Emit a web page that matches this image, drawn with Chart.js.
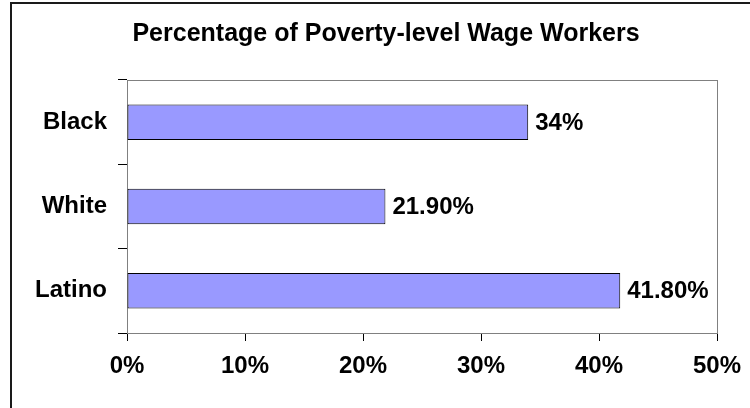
<!DOCTYPE html>
<html>
<head>
<meta charset="utf-8">
<script src="https://cdn.jsdelivr.net/npm/chart.js@4/dist/chart.umd.min.js"></script>
<style>
  html, body { margin: 0; padding: 0; background: #fff; overflow: hidden; }
  #wrap { position: relative; width: 750px; height: 408px; }
  #frame {
    position: absolute; left: 10px; top: 2px; width: 800px; height: 500px;
    border: 2px solid #1a1a1a; box-sizing: border-box; pointer-events: none;
  }
</style>
</head>
<body>
<div id="wrap">
  <canvas id="chart" width="750" height="408"></canvas>
  <div id="frame"></div>
</div>
<script>
const categories = ['Black', 'White', 'Latino'];
const shares = [34, 21.9, 41.8];
const xTicks = [0, 10, 20, 30, 40, 50];
const chartTitle = 'Percentage of Poverty-level Wage Workers';

const FONT = 'Arial, "Liberation Sans", sans-serif';

function pctLabel(v) {
  return Number.isInteger(v) ? v + '%' : v.toFixed(2) + '%';
}

// title sits centred over the framed area, not the canvas
const titleText = {
  id: 'titleText',
  afterDraw(chart) {
    const {ctx} = chart;
    ctx.save();
    ctx.font = 'bold 25px ' + FONT;
    ctx.fillStyle = '#000';
    ctx.textAlign = 'center';
    ctx.textBaseline = 'middle';
    ctx.fillText(chartTitle, 386, 34);
    ctx.restore();
  }
};

// gray box around the plot area
const plotBorder = {
  id: 'plotBorder',
  beforeDatasetsDraw(chart) {
    const {ctx, chartArea: a} = chart;
    ctx.save();
    ctx.strokeStyle = '#808080';
    ctx.lineWidth = 1;
    ctx.strokeRect(a.left + 0.5, a.top + 0.5, a.right - a.left, a.bottom - a.top);
    ctx.restore();
  }
};

// value text at the end of each bar
const barValues = {
  id: 'barValues',
  afterDatasetsDraw(chart) {
    const {ctx} = chart;
    const meta = chart.getDatasetMeta(0);
    ctx.save();
    ctx.font = 'bold 24px ' + FONT;
    ctx.fillStyle = '#000';
    ctx.textAlign = 'left';
    ctx.textBaseline = 'middle';
    meta.data.forEach((bar, i) => {
      ctx.fillText(pctLabel(shares[i]), bar.x + 7, bar.y + 1);
    });
    ctx.restore();
  }
};

new Chart(document.getElementById('chart'), {
  type: 'bar',
  data: {
    labels: categories,
    datasets: [{
      data: shares,
      backgroundColor: '#9999ff',
      borderColor: '#000',
      borderWidth: 1,
      borderSkipped: false,
      categoryPercentage: 1,
      barPercentage: 0.42,
    }]
  },
  options: {
    indexAxis: 'y',
    responsive: false,
    animation: false,
    layout: { padding: { left: 0, right: 33, top: 80, bottom: 0 } },
    plugins: {
      legend: { display: false },
      tooltip: { enabled: false },
      title: { display: false }
    },
    scales: {
      x: {
        min: 0,
        max: 50,
        afterBuildTicks(scale) {
          scale.ticks = xTicks.map(v => ({value: v}));
        },
        afterFit(scale) {
          scale.height = 75;
          scale.paddingLeft = 0;
          scale.paddingRight = 0;
        },
        grid: { drawOnChartArea: false, drawTicks: true, tickLength: 8, color: '#000' },
        border: { display: true, color: '#707070', width: 1 },
        ticks: {
          color: '#000',
          padding: 11,
          maxRotation: 0,
          font: { family: FONT, size: 24, weight: 'bold' },
          callback: v => v + '%',
        }
      },
      y: {
        afterFit(scale) { scale.width = 127; },
        grid: { drawOnChartArea: false, drawTicks: true, tickLength: 9, offset: true, color: '#000' },
        border: { display: true, color: '#707070', width: 1 },
        ticks: {
          color: '#000',
          padding: 11,
          font: { family: FONT, size: 24, weight: 'bold' },
        }
      }
    }
  },
  plugins: [plotBorder, barValues, titleText]
});
</script>
</body>
</html>
